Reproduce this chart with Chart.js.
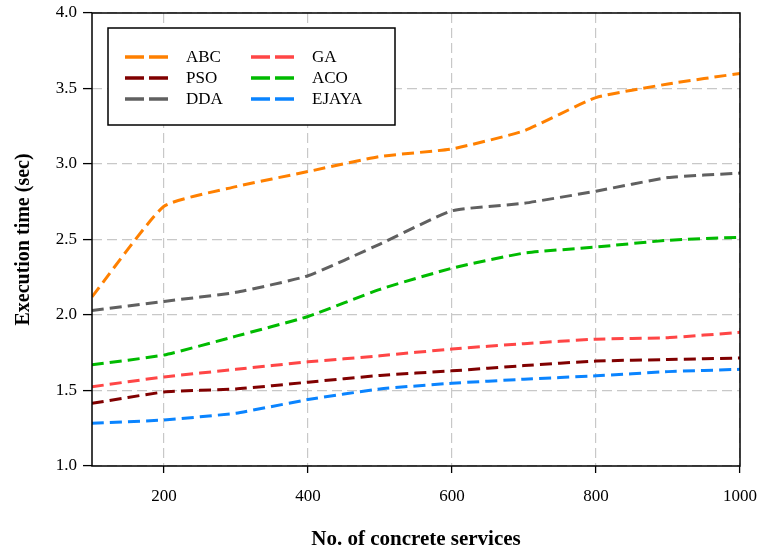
<!DOCTYPE html>
<html>
<head>
<meta charset="utf-8">
<script src="https://cdn.jsdelivr.net/npm/chart.js@4.4.1/dist/chart.umd.min.js"></script>
<style>
  html, body { margin: 0; padding: 0; background: #fff; }
  #wrap { width: 757px; height: 548px; }
</style>
</head>
<body>
<div id="wrap"><canvas id="c" width="757" height="548"></canvas></div>
<script>
// Number of concrete services
const services = [100, 200, 300, 400, 500, 600, 700, 800, 900, 1000];

// Execution time (sec) per algorithm
const abc   = [2.12, 2.72, 2.85, 2.95, 3.05, 3.10, 3.22, 3.44, 3.53, 3.60];
const pso   = [1.415, 1.49, 1.51, 1.555, 1.60, 1.63, 1.665, 1.695, 1.705, 1.715];
const dda   = [2.03, 2.09, 2.15, 2.26, 2.47, 2.69, 2.74, 2.82, 2.91, 2.94];
const ga    = [1.525, 1.59, 1.64, 1.69, 1.73, 1.775, 1.81, 1.84, 1.85, 1.885];
const aco   = [1.67, 1.735, 1.86, 1.99, 2.17, 2.31, 2.41, 2.45, 2.495, 2.515];
const ejaya = [1.283, 1.305, 1.35, 1.44, 1.51, 1.548, 1.575, 1.597, 1.625, 1.64];

const xTickValues = [200, 400, 600, 800, 1000];
const yTickValues = [1.0, 1.5, 2.0, 2.5, 3.0, 3.5, 4.0];

const seriesNames = ['ABC', 'PSO', 'DDA', 'GA', 'ACO', 'EJAYA'];
const seriesData = [abc, pso, dda, ga, aco, ejaya];
const seriesColors = ['#ff8000', '#800000', '#606060', '#ff4646', '#00bb00', '#0a84ff'];

const FONT = "'Liberation Serif', 'Times New Roman', serif";

const datasets = seriesNames.map((name, i) => ({
  label: name,
  data: services.map((x, j) => ({ x: x, y: seriesData[i][j] })),
  borderColor: seriesColors[i],
  backgroundColor: seriesColors[i],
  borderWidth: 3,
  borderDash: [12, 6],
  pointRadius: 0,
  tension: 0.15,
  fill: false
}));

// Boxed legend in the upper-left of the plot, two columns of three rows
const boxLegend = {
  id: 'boxLegend',
  afterDraw(chart) {
    const ctx = chart.ctx;
    const a = chart.chartArea;
    const bx = a.left + 16, by = a.top + 15, bw = 287, bh = 97;
    ctx.save();
    ctx.fillStyle = '#fff';
    ctx.fillRect(bx, by, bw, bh);
    ctx.lineWidth = 1.5;
    ctx.strokeStyle = '#000';
    ctx.setLineDash([]);
    ctx.strokeRect(bx, by, bw, bh);
    ctx.font = '17px ' + FONT;
    ctx.textBaseline = 'middle';
    ctx.textAlign = 'left';
    chart.data.datasets.forEach((ds, i) => {
      const col = Math.floor(i / 3);
      const row = i % 3;
      const lx = bx + 17 + col * 126;
      const ly = by + 29 + row * 21;
      ctx.strokeStyle = ds.borderColor;
      ctx.lineWidth = 3.5;
      ctx.setLineDash([19, 5]);
      ctx.beginPath();
      ctx.moveTo(lx, ly);
      ctx.lineTo(lx + 43, ly);
      ctx.stroke();
      ctx.setLineDash([]);
      ctx.fillStyle = '#000';
      ctx.fillText(ds.label, lx + 61, ly + 1);
    });
    ctx.restore();
  }
};

// Black frame around the plotting area
const frame = {
  id: 'frame',
  afterDatasetsDraw(chart) {
    const ctx = chart.ctx;
    const a = chart.chartArea;
    ctx.save();
    ctx.strokeStyle = '#000';
    ctx.lineWidth = 1.5;
    ctx.setLineDash([]);
    ctx.strokeRect(a.left, a.top, a.right - a.left, a.bottom - a.top);
    ctx.restore();
  }
};

const gridStyle = {
  color: '#c8c8c8',
  lineWidth: 1.2,
  tickColor: '#000',
  tickBorderDash: [],
  tickWidth: 1.3
};

new Chart(document.getElementById('c'), {
  type: 'line',
  data: { datasets: datasets },
  options: {
    responsive: false,
    animation: false,
    layout: { padding: { top: 13, right: 17, left: 0, bottom: 0 } },
    plugins: {
      legend: { display: false },
      tooltip: { enabled: false }
    },
    scales: {
      x: {
        type: 'linear',
        min: 100,
        max: 1000,
        afterBuildTicks(scale) {
          scale.ticks = xTickValues.map(v => ({ value: v }));
        },
        afterFit(scale) {
          scale.height = 82;
          scale.paddingLeft = 0;
          scale.paddingRight = 0;
        },
        ticks: {
          color: '#000',
          font: { family: FONT, size: 17 },
          padding: 13,
          maxRotation: 0,
          callback: v => String(v)
        },
        grid: Object.assign({ tickLength: 7 }, gridStyle),
        border: { display: false, dash: [10, 5] },
        title: {
          display: true,
          text: 'No. of concrete services',
          color: '#000',
          font: { family: FONT, size: 21, weight: 'bold' },
          padding: { top: 8, bottom: -4 }
        }
      },
      y: {
        min: 1.0,
        max: 4.0,
        afterBuildTicks(scale) {
          scale.ticks = yTickValues.map(v => ({ value: v }));
        },
        afterFit(scale) {
          scale.width = 92;
          scale.paddingTop = 0;
          scale.paddingBottom = 0;
        },
        ticks: {
          color: '#000',
          font: { family: FONT, size: 17 },
          padding: 6,
          callback: v => Number(v).toFixed(1)
        },
        grid: Object.assign({ tickLength: 9 }, gridStyle),
        border: { display: false, dash: [10, 5] },
        title: {
          display: true,
          text: 'Execution time (sec)',
          color: '#000',
          font: { family: FONT, size: 20, weight: 'bold' },
          padding: { top: 12, bottom: 0 }
        }
      }
    }
  },
  plugins: [frame, boxLegend]
});
</script>
</body>
</html>
